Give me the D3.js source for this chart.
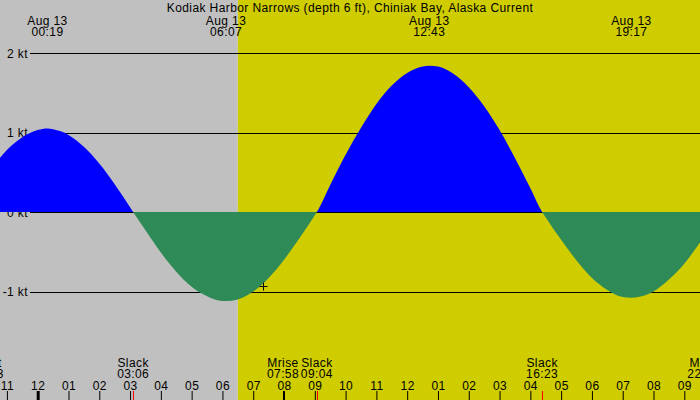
<!DOCTYPE html>
<html>
<head>
<meta charset="utf-8">
<script src="https://cdn.jsdelivr.net/npm/d3@7"></script>
<style>
  html, body { margin: 0; padding: 0; background: #fff; }
  svg { display: block; }
  text { font-family: "Liberation Sans", Arial, sans-serif; font-size: 12px; letter-spacing: 0.4px; fill: #000; }
</style>
</head>
<body>
<svg id="chart" width="700" height="400"></svg>
<script>
// ---- data (hours relative to Aug 13 00:00) ----
const title = "Kodiak Harbor Narrows (depth 6 ft), Chiniak Bay, Alaska Current";
const hours = [-1.5,-1,-0.5,0,0.317,0.5,1,1.5,2,2.5,3,3.1,3.5,4,4.5,5,5.5,6,6.117,6.5,7,7.5,8,8.5,9,9.067,9.5,10,10.5,11,11.5,12,12.5,12.717,13,13.5,14,14.5,15,15.5,16,16.383,16.5,17,17.5,18,18.5,19,19.283,19.5,20,20.5,21,21.5,22];
const current = [0.55,0.78,0.94,1.03,1.05,1.04,0.97,0.82,0.61,0.35,0.06,0,-0.23,-0.51,-0.75,-0.94,-1.06,-1.12,-1.12,-1.10,-1.00,-0.83,-0.60,-0.33,-0.04,0,0.34,0.72,1.06,1.36,1.59,1.75,1.83,1.84,1.83,1.74,1.57,1.33,1.03,0.68,0.30,0,-0.07,-0.35,-0.61,-0.83,-0.98,-1.07,-1.08,-1.07,-1.00,-0.85,-0.65,-0.39,-0.11];

const yTicks = [2, 1, 0, -1];
const yTickLabels = ["2 kt", "1 kt", "0 kt", "-1 kt"];

const extremeHours = [0.317, 6.117, 12.717, 19.283];
const extremeDates = ["Aug 13", "Aug 13", "Aug 13", "Aug 13"];
const extremeTimes = ["00:19", "06:07", "12:43", "19:17"];

const eventHours = [-1.62, 3.1, 7.967, 9.067, 16.383, 21.62];
const eventNames = ["Mset", "Slack", "Mrise", "Slack", "Slack", "Mset"];
const eventTimes = ["22:23", "03:06", "07:58", "09:04", "16:23", "22:02"];
const eventKinds = ["moon", "slack", "moon", "slack", "slack", "moon"];

const hourTicks = [-1,0,1,2,3,4,5,6,7,8,9,10,11,12,13,14,15,16,17,18,19,20,21];
const hourLabels = ["11","12","01","02","03","04","05","06","07","08","09","10","11","12","01","02","03","04","05","06","07","08","09"];

const sunriseHour = 6.5;
const markerHour = 7.317, markerValue = -0.93;

// ---- drawing ----
const W = 700, H = 400;
const svg = d3.select("#chart");
const x = d3.scaleLinear().domain([-1.2244, 21.51]).range([0, W]);
const y = d3.scaleLinear().domain([-1, 2]).range([291.5, 53]);
const crisp = v => Math.round(v) + 0.5;

// clip regions above / below zero
const defs = svg.append("defs");
defs.append("clipPath").attr("id", "above").append("rect")
  .attr("x", 0).attr("y", 0).attr("width", W).attr("height", y(0));
defs.append("clipPath").attr("id", "below").append("rect")
  .attr("x", 0).attr("y", y(0)).attr("width", W).attr("height", H - y(0));

// night / day background
svg.append("rect").attr("x", 0).attr("y", 0).attr("width", x(sunriseHour)).attr("height", H).attr("fill", "#c0c0c0");
svg.append("rect").attr("x", x(sunriseHour)).attr("y", 0).attr("width", W - x(sunriseHour)).attr("height", H).attr("fill", "#cfcc00");

// grid lines
svg.append("g").selectAll("line").data(yTicks).join("line")
  .attr("x1", 30).attr("x2", W)
  .attr("y1", d => crisp(y(d))).attr("y2", d => crisp(y(d)))
  .attr("stroke", "#000").attr("stroke-width", 1);

svg.append("g").selectAll("text").data(yTicks).join("text")
  .attr("x", 28).attr("y", d => y(d) + 4.5)
  .attr("text-anchor", "end")
  .text((d, i) => yTickLabels[i]);

// current areas
const pts = hours.map((h, i) => ({ h, v: current[i] }));
const area = d3.area().curve(d3.curveMonotoneX)
  .x(d => x(d.h)).y0(y(0)).y1(d => y(d.v));
svg.append("path").datum(pts).attr("d", area).attr("fill", "#0000ff").attr("clip-path", "url(#above)");
svg.append("path").datum(pts).attr("d", area).attr("fill", "#2e8b57").attr("clip-path", "url(#below)");

// marker
svg.append("path")
  .attr("transform", `translate(${Math.round(x(markerHour)) + 0.5},${Math.round(y(markerValue)) + 0.5})`)
  .attr("d", "M-4,0H4M0,-4V4")
  .attr("stroke", "#000").attr("stroke-width", 1).attr("fill", "none");

// title
svg.append("text").attr("x", 350).attr("y", 12).attr("text-anchor", "middle").text(title);

// extremes at top
const topG = svg.append("g");
topG.selectAll("text.d").data(extremeHours).join("text").attr("class", "d")
  .attr("x", d => x(d)).attr("y", 24.5).attr("text-anchor", "middle")
  .text((d, i) => extremeDates[i]);
topG.selectAll("text.t").data(extremeHours).join("text").attr("class", "t")
  .attr("x", d => x(d)).attr("y", 35.5).attr("text-anchor", "middle")
  .text((d, i) => extremeTimes[i]);

// hour axis at bottom (labels above ticks)
const axis = d3.axisTop(x).tickValues(hourTicks).tickSize(9).tickPadding(1.5)
  .tickFormat((d, i) => hourLabels[i]);
const ax = svg.append("g").attr("transform", `translate(0,${H})`).call(axis);
ax.select(".domain").remove();
ax.attr("font-family", null).attr("font-size", null);
ax.selectAll("text").attr("fill", "#000");
ax.selectAll(".tick line").attr("stroke", "#000")
  .attr("stroke-width", d => d === 0 ? 3 : 1);

// events at bottom
const ev = svg.append("g");
ev.selectAll("line").data(eventHours).join("line")
  .attr("x1", d => crisp(x(d))).attr("x2", d => crisp(x(d)))
  .attr("y1", 391).attr("y2", H)
  .attr("stroke", (d, i) => eventKinds[i] === "slack" ? "#ff0000" : "#000")
  .attr("stroke-width", 1);
ev.selectAll("text.n").data(eventHours).join("text").attr("class", "n")
  .attr("x", d => x(d)).attr("y", 366.5).attr("text-anchor", "middle")
  .text((d, i) => eventNames[i]);
ev.selectAll("text.t").data(eventHours).join("text").attr("class", "t")
  .attr("x", d => x(d)).attr("y", 377.5).attr("text-anchor", "middle")
  .text((d, i) => eventTimes[i]);
</script>
</body>
</html>
